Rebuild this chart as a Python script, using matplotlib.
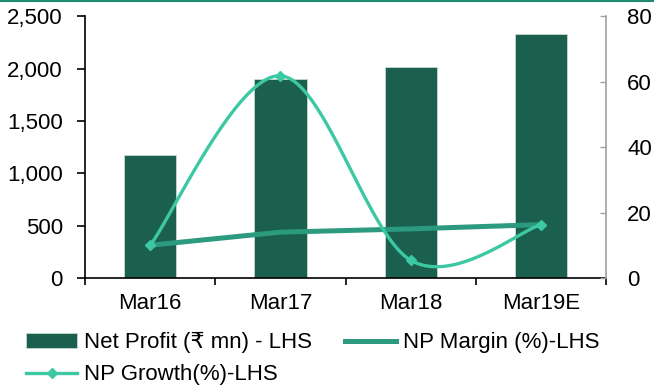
import numpy as np
import matplotlib
matplotlib.use("Agg")
import matplotlib.pyplot as plt
from matplotlib.lines import Line2D
from matplotlib.patches import Patch

plt.rcParams['font.family'] = ['Liberation Sans', 'DejaVu Sans']

categories = ['Mar16', 'Mar17', 'Mar18', 'Mar19E']
net_profit = [1175, 1900, 2010, 2330]
np_margin = [10.0, 14.0, 15.0, 16.3]
np_growth = [10.0, 61.8, 5.4, 16.3]
left_ticks = [0, 500, 1000, 1500, 2000, 2500]
right_ticks = [0, 20, 40, 60, 80]

BAR = '#1b5f4f'
MARGIN = '#2b9a7e'
GROWTH = '#3cc8a2'
FS = 16


def smooth(xs, ys, n=40):
    # Catmull-Rom style smoothing (as in spreadsheet "smoothed line")
    xs = np.asarray(xs, float)
    ys = np.asarray(ys, float)
    px = np.concatenate([[xs[0]], xs, [xs[-1]]])
    py = np.concatenate([[ys[0]], ys, [ys[-1]]])
    ox, oy = [], []
    for i in range(1, len(px) - 2):
        p0 = np.array([px[i - 1], py[i - 1]])
        p1 = np.array([px[i], py[i]])
        p2 = np.array([px[i + 1], py[i + 1]])
        p3 = np.array([px[i + 2], py[i + 2]])
        c1 = p1 + (p2 - p0) / 6.0
        c2 = p2 - (p3 - p1) / 6.0
        t = np.linspace(0, 1, n)[:, None]
        b = ((1 - t) ** 3) * p1 + 3 * ((1 - t) ** 2) * t * c1 + 3 * (1 - t) * t ** 2 * c2 + t ** 3 * p2
        ox.extend(b[:, 0]); oy.extend(b[:, 1])
    return np.array(ox), np.array(oy)


fig = plt.figure(figsize=(6.54, 3.85), dpi=100)
ax = fig.add_axes([0.130, 0.278, 0.797, 0.680])
ax2 = ax.twinx()

x = np.arange(len(categories))
ax.bar(x, net_profit, width=0.40, color=BAR, edgecolor='#c8d8d0', linewidth=0.6, zorder=2)
ax.set_xlim(-0.5, len(categories) - 0.5)
ax.set_ylim(0, 2500)
ax.set_yticks(left_ticks)
ax.set_yticklabels([f'{v:,}' for v in left_ticks])
ax.set_xticks(x)
ax.set_xticklabels(categories)
ax.set_xticks(np.arange(len(categories) + 1) - 0.5, minor=True)
ax.tick_params(axis='x', which='major', length=0, labelsize=FS, pad=11)
ax.tick_params(axis='x', which='minor', length=5, width=1.2, color='black', direction='out')
ax.tick_params(axis='y', length=6, width=1.2, labelsize=FS, pad=10, direction='out')
for s in ['top', 'right']:
    ax.spines[s].set_visible(False)
ax.spines['left'].set_linewidth(1.2)
ax.spines['bottom'].set_linewidth(1.2)

ax2.set_ylim(0, 80)
ax2.set_yticks(right_ticks)
ax2.tick_params(axis='y', length=4, width=1, color='#a0a0a0', direction='in', labelsize=FS, pad=15)
for s in ['top', 'left', 'bottom']:
    ax2.spines[s].set_visible(False)
ax2.spines['right'].set_color('#a0a0a0')
ax2.spines['right'].set_linewidth(1.2)

ax2.plot(x, np_margin, color=MARGIN, linewidth=3.6, solid_capstyle='butt', zorder=3)
sx, sy = smooth(x, np_growth)
ax2.plot(sx, sy, color=GROWTH, linewidth=2.4, zorder=4)
ax2.plot(x, np_growth, linestyle='none', marker='D', markersize=5, color=GROWTH, zorder=5)

# top border line
fig.add_artist(Line2D([0, 1], [0.997, 0.997], transform=fig.transFigure, color='#1f8c72', linewidth=1.5))

handles = [
    Patch(facecolor=BAR, edgecolor='#c8d8d0', linewidth=0.6),
    Line2D([], [], color=GROWTH, linewidth=2.4, marker='D', markersize=5),
    Line2D([], [], color=MARGIN, linewidth=3.6),
]
labels = ['Net Profit (₹ mn) - LHS', 'NP Growth(%)-LHS', 'NP Margin (%)-LHS']
fig.legend(handles, labels, ncol=2, loc='upper left', bbox_to_anchor=(0.040, 0.137),
           frameon=False, fontsize=FS, handlelength=2.3, handletextpad=0.3,
           columnspacing=1.5, labelspacing=0.49, borderaxespad=0, borderpad=0,
           handleheight=0.6)

fig.savefig('out.png', dpi=100)
